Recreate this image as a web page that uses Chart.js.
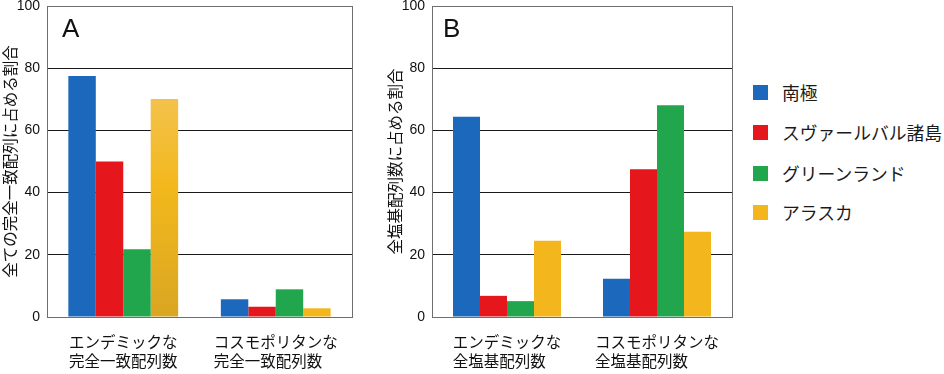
<!DOCTYPE html>
<html><head><meta charset="utf-8">
<script src="https://cdn.jsdelivr.net/npm/chart.js@4"></script>
<style>
html,body{margin:0;padding:0;background:#fff;width:944px;height:374px;overflow:hidden;}
#wa{position:absolute;left:0;top:0;width:360px;height:374px;}
#wb{position:absolute;left:385px;top:0;width:355px;height:374px;}
#legend{position:absolute;left:753px;top:0;font-family:"Noto Sans CJK JP","Noto Sans",sans-serif;font-size:17.8px;color:#1a1a1a;}
.li{position:absolute;left:0;white-space:nowrap;height:20px;line-height:20px;}
.sw{position:absolute;left:0;top:2px;width:15px;height:15px;}
.lt{position:absolute;left:29px;top:-1px;}
</style></head><body>
<div id="wa"><canvas id="ca"></canvas></div>
<div id="wb"><canvas id="cb"></canvas></div>
<div id="legend"></div>
<script>
const seriesNames = ["南極", "スヴァールバル諸島", "グリーンランド", "アラスカ"];
const seriesColors = ["#1b68bd", "#e6161d", "#21a54d", "#f3b71d"];
const categoriesA = [["エンデミックな", "完全一致配列数"], ["コスモポリタンな", "完全一致配列数"]];
const categoriesB = [["エンデミックな", "全塩基配列数"], ["コスモポリタンな", "全塩基配列数"]];
const valuesA = [
  [77.5, 5.7],
  [50.0, 3.3],
  [21.8, 8.9],
  [70.1, 2.8]
];
const valuesB = [
  [64.4, 12.3],
  [6.8, 47.5],
  [5.1, 68.1],
  [24.5, 27.4]
];
const yTicks = [0, 20, 40, 60, 80, 100];
const titleA = "全ての完全一致配列に占める割合";
const titleB = "全塩基配列数に占める割合";

const CJK = '"Noto Sans CJK JP","Noto Sans",sans-serif';
const LAT = '"Liberation Sans",Arial,sans-serif';

function padLines(lines) {
  const n = Math.max(...lines.map(s => s.length));
  return lines.map(s => s + "\u3000".repeat(n - s.length));
}

const framePlugin = {
  id: 'frame',
  afterDraw(chart, args, opts) {
    const a = chart.chartArea, ctx = chart.ctx;
    ctx.save();
    ctx.strokeStyle = '#6e6e6e';
    ctx.lineWidth = 1;
    ctx.strokeRect(Math.round(a.left) + 0.5, Math.round(a.top) + 0.5, Math.round(a.right - a.left), Math.round(a.bottom - a.top));
    ctx.fillStyle = '#111';
    ctx.font = '26px ' + LAT;
    ctx.textBaseline = 'alphabetic';
    ctx.textAlign = 'left';
    ctx.fillText(opts.letter, a.left + opts.dx, 37);
    ctx.restore();
  }
};

function makeChart(id, cats, vals, title, letter, dx, gradientFirstYellow) {
  const datasets = seriesNames.map((name, i) => ({
    label: name,
    data: vals[i],
    backgroundColor: (ctx) => {
      if (gradientFirstYellow && i === 3 && ctx.dataIndex === 0 && ctx.chart.chartArea) {
        const y = ctx.chart.scales.y;
        const top = y.getPixelForValue(vals[i][0]);
        const bot = y.getPixelForValue(0);
        const g = ctx.chart.ctx.createLinearGradient(0, top, 0, bot);
        g.addColorStop(0, '#f3c24c');
        g.addColorStop(0.4, '#f2b81c');
        g.addColorStop(1, '#d9a622');
        return g;
      }
      return seriesColors[i];
    },
    borderWidth: 0,
    categoryPercentage: 0.72,
    barPercentage: 1.0
  }));
  return new Chart(document.getElementById(id), {
    type: 'bar',
    data: { labels: cats, datasets },
    plugins: [framePlugin],
    options: {
      responsive: true,
      maintainAspectRatio: false,
      animation: false,
      layout: { padding: { top: 6, right: 8, left: 0, bottom: 0 } },
      plugins: {
        legend: { display: false },
        tooltip: { enabled: false },
        frame: { letter, dx }
      },
      scales: {
        x: {
          grid: { display: false, drawTicks: false },
          border: { display: false },
          ticks: {
            padding: 16,
            color: '#111',
            maxRotation: 0,
            autoSkip: false,
            font: { family: CJK, size: 15.5, lineHeight: 1.23 },
            callback: (v, i) => padLines(cats[i])
          },
          afterFit: (s) => { s.height = 57; s.paddingLeft = 0; s.paddingRight = 0; }
        },
        y: {
          min: 0, max: 100,
          afterBuildTicks: (s) => { s.ticks = yTicks.map(v => ({ value: v })); },
          grid: {
            drawTicks: false,
            color: (c) => (c.tick.value === 0 || c.tick.value === 100) ? '#6e6e6e' : '#1a1a1a',
            lineWidth: 1
          },
          border: { display: false },
          ticks: {
            padding: 7,
            color: '#111',
            font: { family: LAT, size: 14 }
          },
          title: {
            display: true,
            text: title,
            color: '#111',
            font: { family: CJK, size: 15.5 },
            padding: { top: 1, bottom: 0 }
          },
          afterFit: (s) => { s.width = 47; s.paddingTop = 0; s.paddingBottom = 0; }
        }
      }
    }
  });
}

makeChart('ca', categoriesA, valuesA, titleA, 'A', 15, true);
makeChart('cb', categoriesB, valuesB, titleB, 'B', 11, false);

const legend = document.getElementById('legend');
const legendY = [83, 123, 164, 203];
seriesNames.forEach((n, i) => {
  const d = document.createElement('div');
  d.className = 'li';
  d.style.top = legendY[i] + 'px';
  d.innerHTML = '<span class="sw" style="background:' + seriesColors[i] + '"></span><span class="lt"></span>';
  d.querySelector('.lt').textContent = n;
  legend.appendChild(d);
});
</script>
</body></html>
